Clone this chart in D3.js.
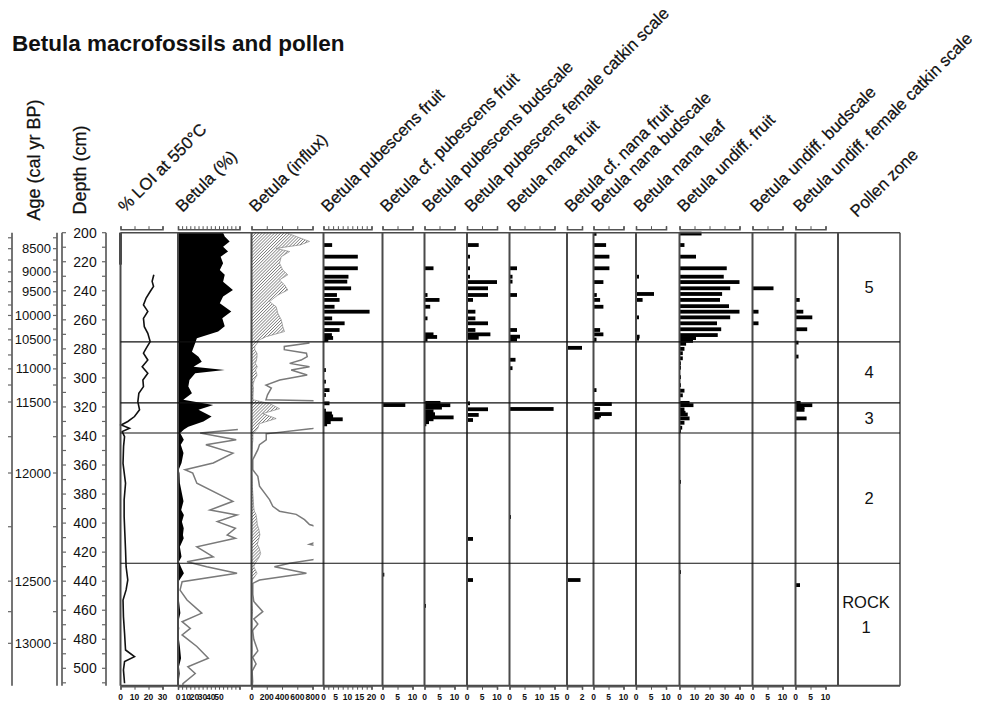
<!DOCTYPE html>
<html>
<head>
<meta charset="utf-8">
<script src="https://cdn.jsdelivr.net/npm/d3@7"></script>
<style>
  body { margin: 0; background: #fff; }
  text { font-family: "Liberation Sans", Arial, sans-serif; fill: #111; }
</style>
</head>
<body>
<svg id="chart" width="997" height="704"></svg>
<script>
// ---------------- data ----------------
// depth (cm) / value pairs per record
const loiTop = [[200,0],[222,0]];
const loi = [[229,23.8],[233.5,22.6],[237,23.6],[240.5,21.2],[245,18.3],[249.8,16.4],[254.2,19.5],[259,16.4],
  [264.7,17],[269.3,19.5],[275,21.2],[279.6,18.3],[283,16.4],[287.7,19.5],[292.3,15.5],[296.8,19.5],[301.4,16],
  [306,16.4],[310.6,13.1],[316.4,12.4],[322,13.6],[326.6,10],[330,5.2],[332.4,0.5],[334.7,6.4],[337,1.2],
  [340.5,2.9],[347,2.2],[349.7,2.1],[358.9,1.8],[372.6,3.6],[384,2.6],[395.5,2.6],[407,3.1],[418.5,3.6],
  [430,4],[439.1,5.2],[446,4],[453,1.8],[464.4,2.1],[475.9,2.9],[487.4,3.6],[492,10],[495.4,2.9],[501.1,2.1],[510.3,2.9]];

const betulaPct = [[200,55],[202.6,57],[206,63],[209.6,55],[213,61],[216.5,52],[221,55],[225.7,51],[229,57],
  [233.7,55],[239.5,67],[244,55],[248.6,51],[254.3,65],[259,54],[264.5,57],[268,49],[272.7,23],[276,21],
  [282,17],[285.4,25],[288.9,29],[292.3,19],[294.6,57],[296.8,21],[301.4,14],[306,12.6],[310.6,17],[315,6.5],
  [318.7,43],[322,25],[326.6,41],[330,31],[333.6,12.6],[335.5,7.3],[338,2.7],[342.6,7.1],[346,3.4],[351.8,6.7],
  [358.6,4.3],[363.3,0.85],[365.6,1.8],[372.5,2.3],[385,6.7],[391,3.9],[394.4,7.2],[399,4.8],[403.6,7.0],
  [408.2,6.0],[410.5,7.0],[416.3,2.3],[423.2,4.3],[426.6,1.1],[430,3.5],[434.6,7.2],[440.4,0.5],[446.2,0.25],
  [453,1.1],[462,2.9],[467.9,0.5],[472.5,1.5],[477,0.5],[485,2.3],[493,3.7],[499,1.2],[503.6,2.1],[510.5,0.6],[512,0.6]];

const betulaInflux = [[200,455],[202.6,585],[206,760],[208.4,640],[210.8,323],[213,500],[216.5,390],[221,367],
  [225.7,410],[229,476],[232.5,367],[235.9,432],[239.5,476],[242.9,345],[247.5,236],[251,323],[255.5,345],
  [260,390],[264.7,410],[268.1,432],[271.6,192],[274,95],[276,76],[278.3,43],[280.6,43],[283,72],[285.3,73],
  [287.7,65],[290,50],[292.3,76],[294.6,52],[298,73],[301.4,37],[305,19],[307,26],[311.7,21],[315,19],
  [317.7,236],[321.2,367],[324.6,148],[328,323],[331.5,105],[334.9,80],[338.5,19.3],[342.6,19.3],[346,10.5],
  [349.4,8.3],[356.3,1.7],[363.3,1.7],[367.8,8.3],[374.6,10.5],[383.8,23.6],[388.4,27.9],[391.8,36.7],
  [394,58.6],[397.6,69.5],[401,76],[404,95],[408,110],[412,90],[414.6,76],[417,100],[421,120],[424,95],
  [427.6,50],[430,30],[434.6,72],[439.2,10.5],[441.5,1.7],[449,1.7],[454,3],[461,14.8],[466,3],[469.5,8.3],
  [474,1.5],[480,3],[488,8.3],[492.5,1.5],[497,6],[502,0.8],[509,1.5],[512,1]];

// macrofossil counts: [depth, count]
const pubescensFruit = [[208.5,3.6],[216.5,14.3],[224.5,14.3],[230.3,10.4],[233.7,9.9],[238.3,11.5],[242.9,5.6],
  [246.3,6.7],[251,4.6],[254.4,19.2],[259,3.6],[262.4,8.8],[267,6.7],[270.5,3.5],[272.5,4],[274,2],
  [294.6,1],[302.6,1],[308.4,2.5],[311.8,1],[317.5,2.5],[322.5,1],[324.5,3.5],[326.5,4],[328.5,8],[330.5,3],[332,1.5]];
const cfPubescensFruit = [[318.7,7.6],[435.5,0.6]];
const pubescensBudscale = [[224.5,3],[242.9,1],[246.3,5],[251,1.9],[259,1],[270,3],[271.8,4.2],[273.6,1],
  [317.2,5.3],[318.8,8.6],[320.5,5.8],[323,3],[325,3.5],[327.2,9.7],[328.5,3],[330.5,1.5],[332,0.6],[457,0.5]];
const pubescensCatkin = [[208.5,3.9],[216.5,1],[224.5,1],[230.3,1],[234,10],[238.3,7],[242.9,7],[246.3,2],
  [254.4,2.8],[259,2.8],[262.4,7],[267,2.8],[270,7.8],[272.4,3.9],[317.5,1],[321.6,7],[325.5,3.9],[329,2],
  [410.9,2],[439.2,2]];
const nanaFruit = [[224.5,2.5],[230.3,1],[233.7,1],[242.9,2.5],[267,2.5],[271.6,3.5],[273.5,2.5],[287.5,2],
  [293.3,1],[321.4,14.7],[395.8,0.5]];
const cfNanaFruit = [[279.3,2],[439.2,1.8]];
const nanaBudscale = [[200.8,1],[208.5,4.2],[216.5,5.3],[224.5,5.3],[234,3.3],[242.9,1.1],[246.3,2.2],[251,3.3],
  [267,2.2],[270,3.3],[273.6,1],[308.4,1],[318,6.1],[321.4,2.2],[324.9,6.1],[326,2.5],[327.2,2]];
const nanaLeaf = [[230.3,1],[242.2,6],[246.3,2.2],[258.3,1],[271.6,1.2],[273,1]];
const undiffFruit = [[200.6,14.7],[208.5,3.3],[216.5,11],[224.5,31.5],[230.3,29.5],[234,40],[238.3,33.8],
  [242.2,28.4],[246.3,27],[250.6,33],[254.4,40],[258.3,33.8],[262.4,25],[266.5,27.8],[270.5,25.5],[272.6,11],
  [274.5,9],[276.5,4.4],[280,3.3],[283,2.2],[286.5,2.2],[290,1],[293,1],[299.5,0.7],[305,0.7],[308.8,3.3],
  [312,2.2],[317.2,6.7],[318.8,9.3],[321.7,3.3],[324,4],[325.2,5.5],[327.9,6.7],[330.9,3.3],[334.3,1.8],
  [336.6,1],[371.6,0.7],[433.7,0.7]];
const undiffBudscale = [[238.3,7],[254.4,2],[262.4,2]];
const undiffCatkin = [[246.3,1.4],[254.4,2.6],[258.3,5.6],[266.5,3.9],[275.7,1],[285.3,1],[317.2,1.7],
  [318.8,5.6],[320,3],[322,3],[327.9,3.7],[442.7,1.5]];

// age-depth tie points for the age axis
const ageTicks = [8250,8500,8750,9000,9250,9500,9750,10000,10250,10500,10750,11000,11250,11500,11750,12000,12250,12500,12750,13000];
const ageTickDepths = [203.5,211,218.8,227,233.7,240.7,249.8,257,266.3,273.8,284.2,293.8,304.9,316.6,340.5,365.5,402.5,440,461,482.8];
const ageLabels = [8500,9000,9500,10000,10500,11000,11500,12000,12500,13000];

const zoneBounds = [275.2, 317.2, 337.9, 427.6];
const zoneNames = ["5", "4", "3", "2", "ROCK 1"];

const headers = ["% LOI at 550°C", "Betula (%)", "Betula (influx)", "Betula pubescens fruit",
  "Betula cf. pubescens fruit", "Betula pubescens budscale", "Betula pubescens female catkin scale",
  "Betula nana fruit", "Betula cf. nana fruit", "Betula nana budscale", "Betula nana leaf",
  "Betula undiff. fruit", "Betula undiff. budscale", "Betula undiff. female catkin scale"];

// ---------------- layout ----------------
const svg = d3.select("#chart");
const depthMin = 200, depthMax = 512;
const y = d3.scaleLinear().domain([depthMin, depthMax]).range([232.7, 232.7 + (depthMax - depthMin) * 1.452]);
const plotTop = y(depthMin), plotBot = y(depthMax);

// panel geometry: left edge, px per unit, axis ticks and bottom labels
const panelDefs = [
  {left:120.5, ppu:1.4,    ticks:[0,10,20,30], labels:[0,10,20,30]},
  {left:178,   ppu:0.82,   ticks:d3.range(0,76,5), labels:[0,10,20,30,40,50]},
  {left:251.5, ppu:0.0763, ticks:[0,200,400,600,800], labels:[0,200,400,600,800]},
  {left:323.5, ppu:2.4,    ticks:d3.range(0,21,2), labels:[0,5,10,15,20]},
  {left:382.5, ppu:3,      ticks:[0,5,10], labels:[0,5,10]},
  {left:424.5, ppu:3,      ticks:[0,5,10], labels:[0,5,10]},
  {left:467,   ppu:3,      ticks:[0,5,10], labels:[0,5,10]},
  {left:509.5, ppu:3,      ticks:[0,5,10,15], labels:[0,5,10,15]},
  {left:567,   ppu:7.5,    ticks:[0,2], labels:[0,2]},
  {left:593.5, ppu:3,      ticks:[0,5,10], labels:[0,5,10]},
  {left:636,   ppu:3,      ticks:[0,5,10], labels:[0,5,10]},
  {left:679.5, ppu:1.5,    ticks:[0,10,20,30,40], labels:[0,10,20,30,40]},
  {left:752.5, ppu:3,      ticks:[0,5,10], labels:[0,5,10]},
  {left:795.5, ppu:3,      ticks:[0,5,10], labels:[0,5,10]}
];
const zoneLeft = 838, zoneRight = 900;
panelDefs.forEach(p => {
  const maxT = d3.max(p.ticks);
  p.x = d3.scaleLinear().domain([0, maxT]).range([p.left, p.left + maxT * p.ppu]);
});

const defs = svg.append("defs");
const hatch = defs.append("pattern").attr("id", "hatch").attr("patternUnits", "userSpaceOnUse")
  .attr("width", 2.2).attr("height", 2.2).attr("patternTransform", "rotate(45)");
hatch.append("line").attr("x1", 0).attr("y1", 0).attr("x2", 0).attr("y2", 2.2)
  .attr("stroke", "#4d4d4d").attr("stroke-width", 1.1);

function clipFor(id, p) {
  const xr = p.x.range();
  defs.append("clipPath").attr("id", id).append("rect")
    .attr("x", xr[0]).attr("y", plotTop).attr("width", xr[1] - xr[0] + 1).attr("height", plotBot - plotTop);
}

// ---------------- title ----------------
svg.append("text").attr("x", 12).attr("y", 51).attr("font-size", 22.5).attr("font-weight", "bold")
  .text("Betula macrofossils and pollen");

// ---------------- curves ----------------
const pLoi = panelDefs[0], pPct = panelDefs[1], pInf = panelDefs[2];

const loiLine = d3.line().x(d => pLoi.x(d[1])).y(d => y(d[0]));
svg.append("path").datum(loiTop).attr("d", loiLine)
  .attr("fill", "none").attr("stroke", "#111").attr("stroke-width", 2.5);
svg.append("path").datum(loi).attr("d", loiLine)
  .attr("fill", "none").attr("stroke", "#111").attr("stroke-width", 1.6);

// Betula % silhouette with x10 exaggeration curve below 335 cm
clipFor("clipPct", pPct);
svg.append("path").datum(betulaPct)
  .attr("d", d3.area().y(d => y(d[0])).x0(pPct.left).x1(d => pPct.x(d[1])))
  .attr("fill", "#000");
svg.append("path").datum(betulaPct.filter(d => d[0] >= 335))
  .attr("clip-path", "url(#clipPct)")
  .attr("d", d3.line().x(d => pPct.x(d[1] * 10)).y(d => y(d[0])))
  .attr("fill", "none").attr("stroke", "#7a7a7a").attr("stroke-width", 1.5);

// Betula influx, hatched, with x10 exaggeration curve below 275 cm
clipFor("clipInf", pInf);
svg.append("path").datum(betulaInflux)
  .attr("d", d3.area().y(d => y(d[0])).x0(pInf.left).x1(d => pInf.x(d[1])))
  .attr("fill", "url(#hatch)").attr("stroke", "#777").attr("stroke-width", 0.6);
svg.append("path").datum(betulaInflux.filter(d => d[0] >= 275))
  .attr("clip-path", "url(#clipInf)")
  .attr("d", d3.line().x(d => pInf.x(d[1] * 10)).y(d => y(d[0])))
  .attr("fill", "none").attr("stroke", "#7a7a7a").attr("stroke-width", 1.5);

// ---------------- macrofossil bars ----------------
const macro = [pubescensFruit, cfPubescensFruit, pubescensBudscale, pubescensCatkin, nanaFruit, cfNanaFruit,
  nanaBudscale, nanaLeaf, undiffFruit, undiffBudscale, undiffCatkin];
macro.forEach((rows, i) => {
  const p = panelDefs[i + 3];
  svg.append("g").selectAll("rect").data(rows).join("rect")
    .attr("x", p.left).attr("y", d => y(d[0]) - 1.9)
    .attr("width", d => Math.max(1.5, p.x(d[1]) - p.left)).attr("height", 3.8)
    .attr("fill", "#000");
});

// ---------------- frames ----------------
const frame = svg.append("g").attr("stroke", "#4a4a4a").attr("fill", "none");
panelDefs.forEach(p => {
  frame.append("line").attr("x1", p.left).attr("x2", p.left).attr("y1", plotTop).attr("y2", plotBot)
    .attr("stroke-width", 2);
});
frame.append("line").attr("x1", zoneLeft).attr("x2", zoneLeft).attr("y1", plotTop).attr("y2", plotBot).attr("stroke-width", 2);
frame.append("line").attr("x1", zoneRight).attr("x2", zoneRight).attr("y1", plotTop).attr("y2", plotBot).attr("stroke-width", 1.5);
frame.append("line").attr("x1", 120.5).attr("x2", zoneRight).attr("y1", plotTop).attr("y2", plotTop).attr("stroke-width", 1.5);
frame.append("line").attr("x1", 120.5).attr("x2", zoneRight).attr("y1", plotBot).attr("y2", plotBot).attr("stroke-width", 2);

// zone boundaries
svg.append("g").selectAll("line").data(zoneBounds).join("line")
  .attr("x1", 120.5).attr("x2", zoneRight).attr("y1", d => y(d)).attr("y2", d => y(d))
  .attr("stroke", "#111").attr("stroke-width", 1.1);

// zone names
const zEdges = [depthMin, ...zoneBounds, depthMax];
zoneNames.forEach((name, i) => {
  const mid = (zEdges[i] + zEdges[i + 1]) / 2;
  const parts = name.split(" ");
  const cx = (zoneLeft + zoneRight) / 2;
  if (parts.length === 1) {
    svg.append("text").attr("text-anchor", "middle").attr("font-size", 16.5)
      .attr("x", cx).attr("y", y(mid) + 6).text(name);
  } else {
    svg.append("text").attr("text-anchor", "middle").attr("font-size", 16.5)
      .attr("x", cx - 3).attr("y", y(mid) - 16).text(parts[0]);
    svg.append("text").attr("text-anchor", "middle").attr("font-size", 16.5)
      .attr("x", cx - 3).attr("y", y(mid) + 9).text(parts[1]);
  }
});

// ---------------- panel axes ----------------
panelDefs.forEach(p => {
  const top = svg.append("g").attr("transform", `translate(0,${plotTop - 3.5})`)
    .call(d3.axisTop(p.x).tickValues(p.ticks).tickSize(3).tickFormat(""));
  top.select(".domain").attr("stroke", "#555").attr("stroke-width", 1.6);
  top.selectAll(".tick line").attr("stroke", "#555");
  const bot = svg.append("g").attr("transform", `translate(0,${plotBot + 0.5})`)
    .call(d3.axisBottom(p.x).tickValues(p.ticks).tickSize(3.5).tickFormat(""));
  bot.select(".domain").attr("stroke", "#555").attr("stroke-width", 1.6);
  bot.selectAll(".tick line").attr("stroke", "#555");
  svg.append("g").selectAll("text").data(p.labels).join("text")
    .attr("x", d => p.x(d)).attr("y", plotBot + 14).attr("text-anchor", "middle")
    .attr("font-size", 8.5).attr("font-weight", "bold").text(d => d);
});

// ---------------- rotated headers ----------------
headers.forEach((h, i) => {
  const p = panelDefs[i];
  svg.append("text").attr("transform", `translate(${p.left + 4.5},213) rotate(-45)`)
    .attr("font-size", 16.8).attr("stroke", "#111").attr("stroke-width", 0.25).text(h);
});
svg.append("text").attr("transform", `translate(857,218) rotate(-45)`).attr("font-size", 16.8)
  .attr("stroke", "#111").attr("stroke-width", 0.25).text("Pollen zone");

// ---------------- age and depth axes ----------------
const ax = svg.append("g").attr("stroke", "#666").attr("fill", "none");
[12, 57].forEach(xx => {
  ax.append("line").attr("x1", xx).attr("x2", xx).attr("y1", plotTop).attr("y2", plotBot).attr("stroke-width", 1.8);
  ax.selectAll(null).data(ageTickDepths).join("line")
    .attr("x1", xx - 4).attr("x2", xx).attr("y1", d => y(d)).attr("y2", d => y(d)).attr("stroke-width", 1.2);
});
svg.append("g").selectAll("text").data(ageLabels).join("text")
  .attr("x", 51).attr("y", a => y(ageTickDepths[ageTicks.indexOf(a)]) + 4.5)
  .attr("text-anchor", "end").attr("font-size", 13).text(a => a);

const depthTicks = d3.range(200, 511, 10);
[62, 106].forEach((xx, k) => {
  ax.append("line").attr("x1", xx).attr("x2", xx).attr("y1", plotTop).attr("y2", plotBot).attr("stroke-width", 1.8);
  ax.selectAll(null).data(depthTicks).join("line")
    .attr("x1", xx).attr("x2", k === 0 ? xx + 4 : xx - 4).attr("y1", d => y(d)).attr("y2", d => y(d)).attr("stroke-width", 1.2);
});
svg.append("g").selectAll("text").data(d3.range(200, 501, 20)).join("text")
  .attr("x", 85).attr("y", d => y(d) + 5).attr("text-anchor", "middle").attr("font-size", 14).text(d => d);

svg.append("text").attr("transform", "translate(40,160) rotate(-90)").attr("text-anchor", "middle")
  .attr("font-size", 18).attr("stroke", "#111").attr("stroke-width", 0.25).text("Age (cal yr BP)");
svg.append("text").attr("transform", "translate(86,170) rotate(-90)").attr("text-anchor", "middle")
  .attr("font-size", 18).attr("stroke", "#111").attr("stroke-width", 0.25).text("Depth (cm)");
</script>
</body>
</html>
